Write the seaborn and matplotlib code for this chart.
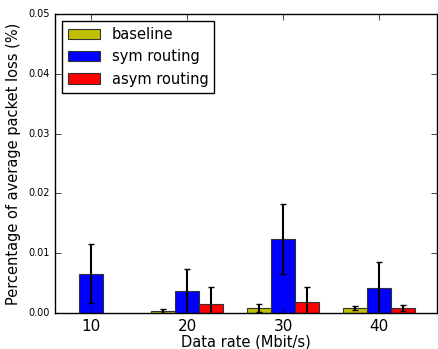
import pandas as pd
import numpy as np
import matplotlib
matplotlib.use("Agg")
import matplotlib.pyplot as plt
from matplotlib.ticker import FormatStrFormatter
import seaborn as sns

plt.style.use("classic")

rates = ["10", "20", "30", "40"]
series = ["baseline", "sym routing", "asym routing"]
baseline = [np.nan, 0.0003, 0.00084, 0.0008]
baseline_err = [np.nan, 0.0003, 0.0006, 0.0003]
sym = [0.0066, 0.0036, 0.0124, 0.0042]
sym_err = [0.0049, 0.0037, 0.0058, 0.0043]
asym = [np.nan, 0.0015, 0.0019, 0.00084]
asym_err = [np.nan, 0.0029, 0.0025, 0.0005]
colors = ["#bfbf00", "#0000ff", "#ff0000"]

df = pd.DataFrame({
    "rate": rates * 3,
    "kind": [s for s in series for _ in rates],
    "loss": baseline + sym + asym,
    "err": baseline_err + sym_err + asym_err,
})

fig = plt.figure(figsize=(4.38, 3.49), dpi=100, facecolor="white")
ax = fig.add_axes([0.1256, 0.1032, 0.8721, 0.8567])

sns.barplot(data=df, x="rate", y="loss", hue="kind", order=rates,
            hue_order=series, palette=colors, width=0.75, errorbar=None,
            edgecolor="#333333", linewidth=0.8, saturation=1, ax=ax)

# error bars at bar centres
w = 0.25
for i, s in enumerate(series):
    sub = df[df["kind"] == s]
    xs = np.arange(len(rates)) + (i - 1) * w
    ax.errorbar(xs, sub["loss"], yerr=sub["err"], fmt="none",
                ecolor="black", elinewidth=1.5, capsize=2, capthick=1)

ax.set_xlim(-0.375, 3.6)
ax.set_ylim(0, 0.05)
ax.yaxis.set_major_formatter(FormatStrFormatter("%.2f"))
ax.tick_params(axis="y", labelsize=7)
ax.tick_params(axis="x", labelsize=11)
ax.set_xlabel("Data rate (Mbit/s)", fontsize=10.5, labelpad=1)
ax.set_ylabel("Percentage of average packet loss (%)", fontsize=10.5, labelpad=5)
ax.legend(loc="upper left", fontsize=10.5, fancybox=False, handlelength=2.2)

fig.savefig("out.png", dpi=100, facecolor="white")
